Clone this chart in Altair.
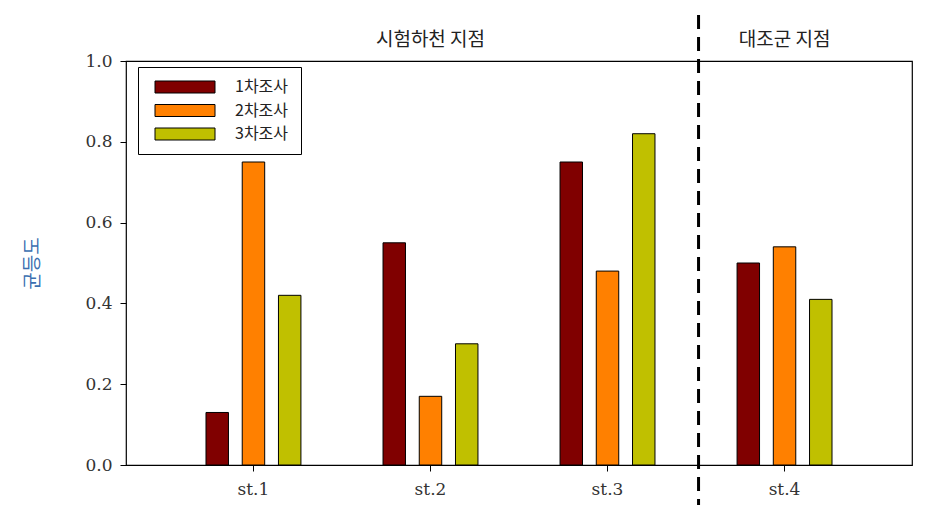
import altair as alt
import pandas as pd

stations = ["st.1", "st.2", "st.3", "st.4"]
surveys = ["1차조사", "2차조사", "3차조사"]
survey1 = [0.13, 0.55, 0.75, 0.50]
survey2 = [0.75, 0.17, 0.48, 0.54]
survey3 = [0.42, 0.30, 0.82, 0.41]
colors = ["#800000", "#ff8000", "#c0c000"]
region_labels = ["시험하천 지점", "대조군 지점"]
region_pos = ["st.2", "st.4"]

rows = []
for s, vals in zip(surveys, [survey1, survey2, survey3]):
    for st, v in zip(stations, vals):
        rows.append({"station": st, "survey": s, "value": v})
df = pd.DataFrame(rows)

W, H = 786, 404
serif = "DejaVu Serif"
kr = "Noto Sans CJK KR"

xscale = alt.Scale(domain=stations, paddingInner=0.39, paddingOuter=0.415)

bars = alt.Chart(df).mark_bar(stroke="black", strokeWidth=1).encode(
    x=alt.X("station:N", scale=xscale, sort=stations,
            axis=alt.Axis(title=None, labelAngle=0, labelFont=serif, labelFontSize=17,
                          labelColor="#333333", tickColor="black", tickSize=6,
                          domain=False, labelPadding=10, grid=False)),
    xOffset=alt.XOffset("survey:N", sort=surveys,
                        scale=alt.Scale(paddingInner=0.38, paddingOuter=0.18)),
    y=alt.Y("value:Q", scale=alt.Scale(domain=[0, 1], nice=False),
            axis=alt.Axis(title="균등도", titleFont=kr, titleFontSize=19,
                          titleFontWeight="normal", titleColor="#3b6fb0",
                          titlePadding=42, values=[0, 0.2, 0.4, 0.6, 0.8, 1.0],
                          format=".1f", labelFont=serif, labelFontSize=17,
                          labelColor="#333333", tickColor="black", tickSize=6,
                          domain=False, grid=False, labelPadding=8)),
    color=alt.Color("survey:N", sort=surveys,
                    scale=alt.Scale(domain=surveys, range=colors),
                    legend=alt.Legend(title=None, orient="none", legendX=12, legendY=6,
                                      symbolType="M-5,-1H5V1H-5Z", symbolSize=144,
                                      symbolOffset=27,
                                      symbolStrokeColor="black", symbolStrokeWidth=1,
                                      symbolOpacity=1,
                                      labelFont=kr, labelFontSize=16, labelColor="#222222",
                                      labelOffset=42, rowPadding=7.5,
                                      strokeColor="black", padding=12, fillColor="white")),
)

sep_df = pd.DataFrame({"station": ["st.4"]})
sep = alt.Chart(sep_df).mark_rule(color="black", strokeWidth=3, strokeDash=[14, 8]).encode(
    x=alt.X("station:N", scale=xscale, sort=stations, bandPosition=0),
    xOffset=alt.value(-32),
    y=alt.value(-46),
    y2=alt.value(444),
)

lab_df = pd.DataFrame({"station": region_pos, "label": region_labels})
labels = alt.Chart(lab_df).mark_text(font=kr, fontSize=19, color="#222222", baseline="middle").encode(
    x=alt.X("station:N", scale=xscale, sort=stations, bandPosition=0.5),
    y=alt.value(-21),
    text="label:N",
)

chart = alt.layer(bars, sep, labels).properties(
    width=W, height=H,
    autosize=alt.AutoSizeParams(type="none"),
    padding={"left": 126, "top": 61, "right": 26, "bottom": 62},
).configure(background="white").configure_view(stroke="black", strokeWidth=1.2)

chart.save("out.html", embed_options={"renderer": "svg", "actions": False})
